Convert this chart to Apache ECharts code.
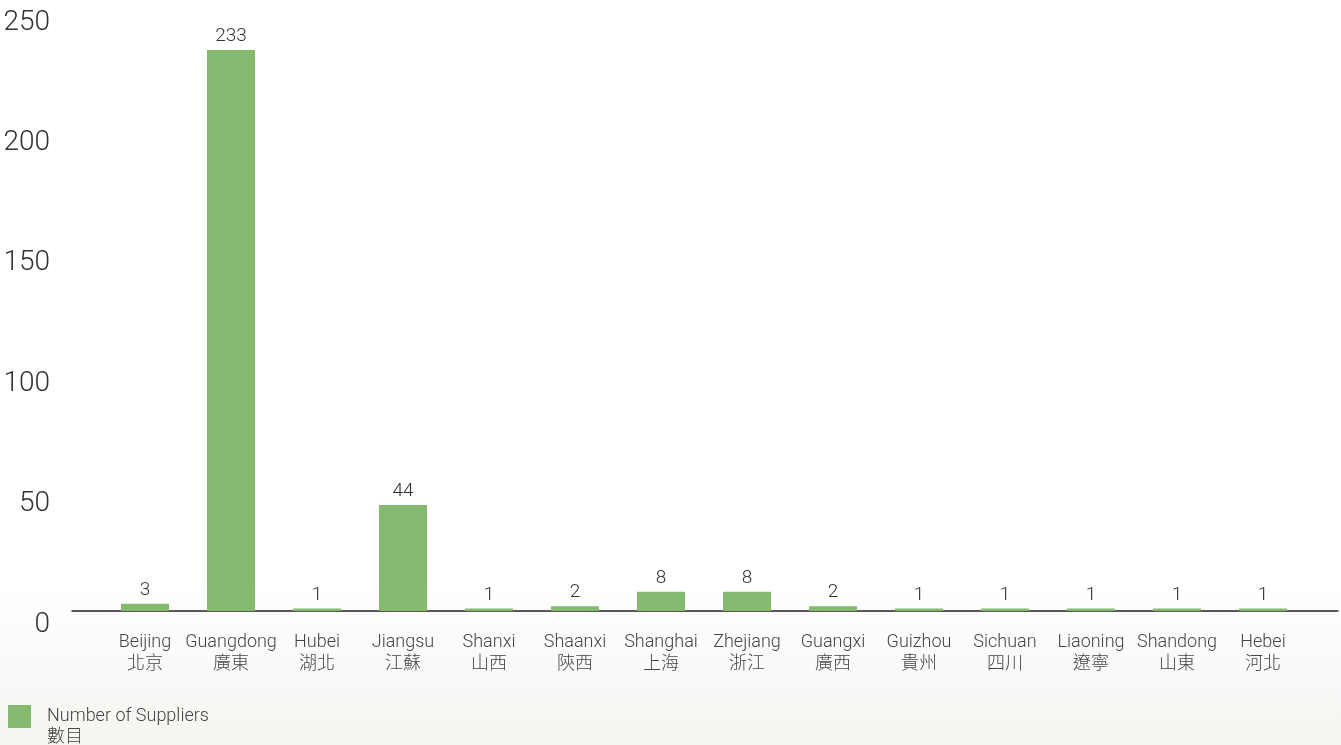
<!DOCTYPE html>
<html><head><meta charset="utf-8">
<script src="https://cdn.jsdelivr.net/npm/echarts@6/dist/echarts.min.js"></script>
<style>html,body{margin:0;padding:0;width:1341px;height:745px;overflow:hidden;}
#c{width:1341px;height:745px;background:linear-gradient(to bottom,#ffffff 0%,#ffffff 78%,#f4f5f1 100%);}</style>
</head><body><div id="c"></div>
<script>
const categoriesEn = ['Beijing','Guangdong','Hubei','Jiangsu','Shanxi','Shaanxi','Shanghai','Zhejiang','Guangxi','Guizhou','Sichuan','Liaoning','Shandong','Hebei'];
const categoriesZh = ['北京','廣東','湖北','江蘇','山西','陝西','上海','浙江','廣西','貴州','四川','遼寧','山東','河北'];
const supplierCounts = [3,233,1,44,1,2,8,8,2,1,1,1,1,1];
const yTicks = [0,50,100,150,200,250];
const seriesName = 'Number of Suppliers\n數目';

const FONT = "Roboto, 'Noto Sans CJK TC', sans-serif";
const chart = echarts.init(document.getElementById('c'));
chart.setOption({
  animation:false,
  grid:[
    {left:102,right:35,top:9,bottom:134,outerBoundsMode:'none',containLabel:false},
    {left:72,right:3,top:9,bottom:134,outerBoundsMode:'none',containLabel:false}
  ],
  legend:{
    left:3, top:700, itemWidth:23, itemHeight:44, itemGap:0,
    icon:'path://M0,0L23,0L23,23L0,23Z M0,44L0.01,44',
    data:[{name:seriesName}],
    textStyle:{fontFamily:FONT,fontSize:18,fontWeight:300,color:'#444',lineHeight:21,padding:[0,0,0,11]}
  },
  xAxis:[
    {type:'category',gridIndex:0,data:categoriesEn.map((e,i)=>e+'\n'+categoriesZh[i]),
     axisLine:{show:false},axisTick:{show:false},
     axisLabel:{interval:0,margin:20,fontFamily:FONT,fontSize:18,fontWeight:300,color:'#444',lineHeight:22}},
    {type:'value',gridIndex:1,min:0,max:1,
     axisLine:{show:true,onZero:false,lineStyle:{color:'#222',width:1.5}},
     axisTick:{show:false},axisLabel:{show:false},splitLine:{show:false}}
  ],
  yAxis:[
    {type:'value',gridIndex:0,min:yTicks[0],max:yTicks[yTicks.length-1],interval:50,
     axisLine:{show:false},axisTick:{show:false},splitLine:{show:false},
     axisLabel:{margin:52,fontFamily:FONT,fontSize:28,fontWeight:300,color:'#333',verticalAlign:'top',lineHeight:27}},
    {type:'value',gridIndex:1,min:0,max:1,show:false}
  ],
  series:[{
    name:seriesName,type:'bar',xAxisIndex:0,yAxisIndex:0,
    data:supplierCounts,barWidth:48,
    itemStyle:{color:'#85b96f'},
    label:{show:true,position:'top',distance:4,fontFamily:FONT,fontSize:19,fontWeight:300,color:'#333'}
  }]
});
</script></body></html>
